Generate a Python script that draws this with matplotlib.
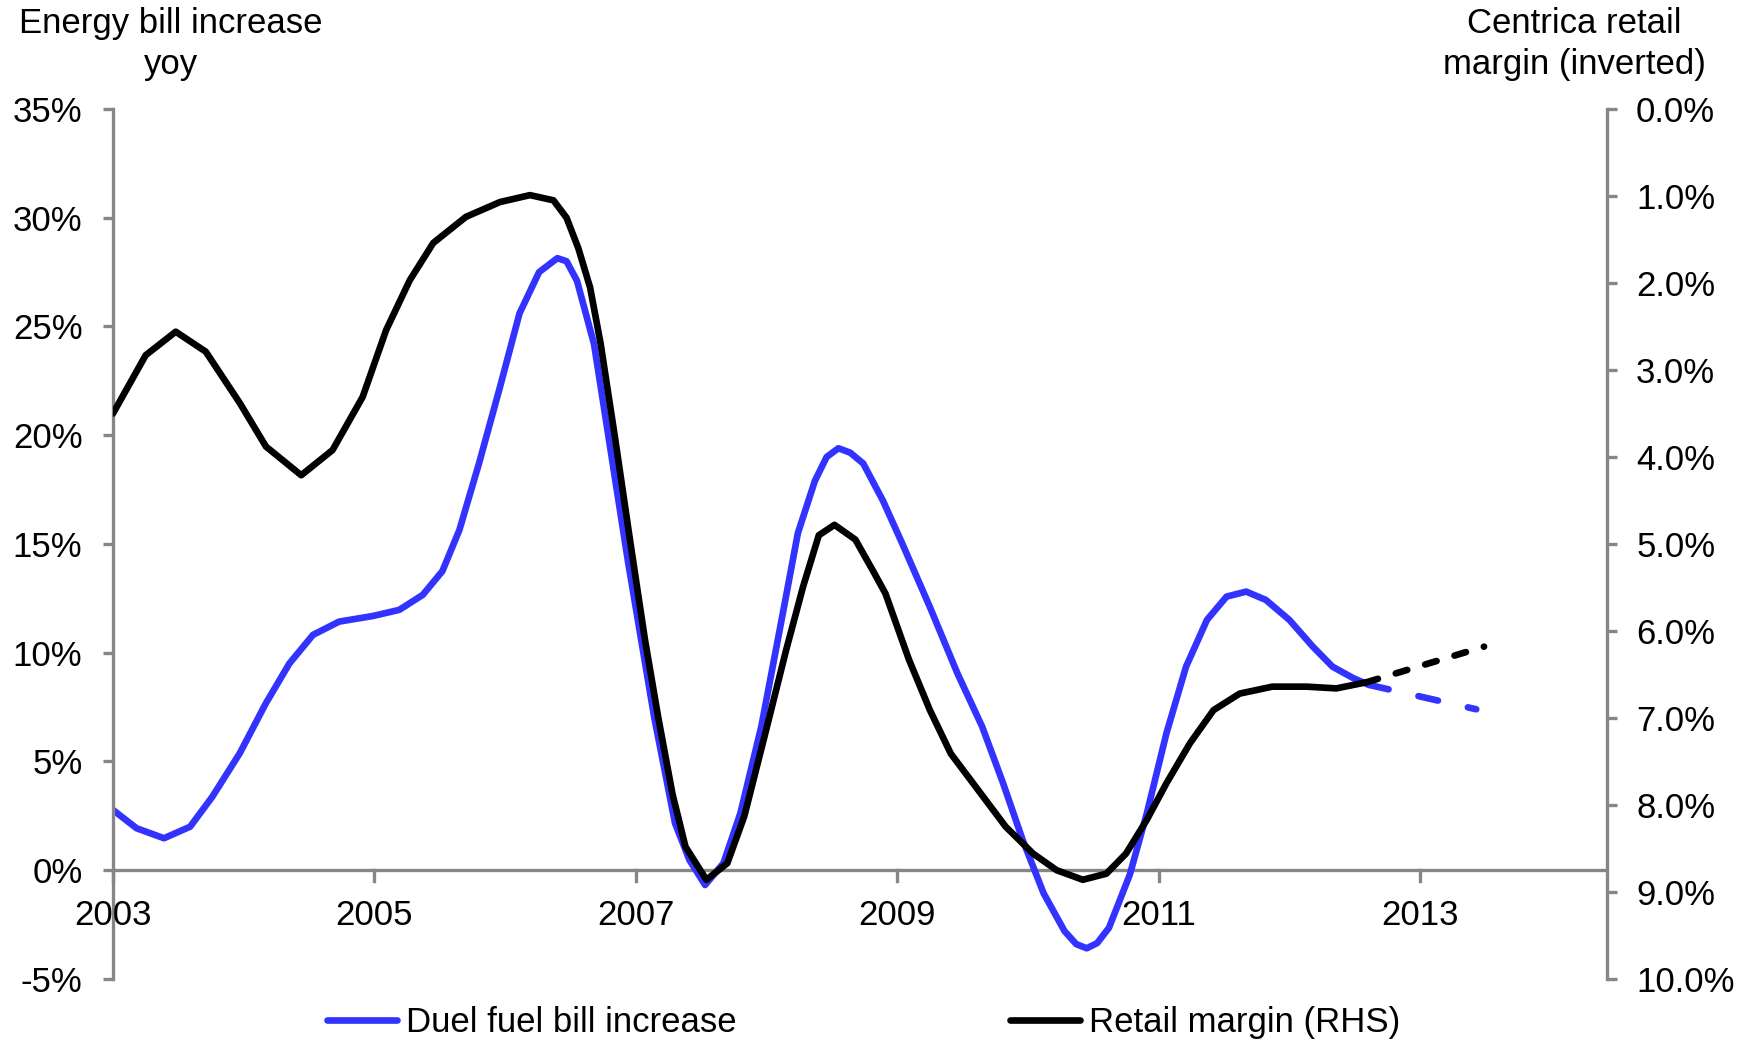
import matplotlib
matplotlib.use("Agg")
import matplotlib.pyplot as plt
from matplotlib.lines import Line2D
from matplotlib.ticker import FuncFormatter

plt.rcParams["font.family"] = ["Liberation Sans", "DejaVu Sans"]

# ── data ─────────────────────────────────────────────────
bill_years = [2003.0, 2003.18, 2003.39, 2003.59, 2003.76, 2003.97, 2004.17, 2004.35,
              2004.53, 2004.73, 2004.99, 2005.19, 2005.37, 2005.52, 2005.65, 2005.80,
              2005.96, 2006.11, 2006.26, 2006.40, 2006.47, 2006.55, 2006.68, 2006.81,
              2006.94, 2007.14, 2007.30, 2007.41, 2007.53, 2007.67, 2007.80, 2007.96,
              2008.12, 2008.24, 2008.37, 2008.46, 2008.55, 2008.64, 2008.74, 2008.89,
              2009.04, 2009.25, 2009.46, 2009.65, 2009.81, 2009.96, 2010.12, 2010.28,
              2010.37, 2010.45, 2010.53, 2010.62, 2010.78, 2010.91, 2011.06, 2011.21,
              2011.37, 2011.52, 2011.67, 2011.82, 2012.0, 2012.18, 2012.33, 2012.49,
              2012.61]
bill_incr = [2.77, 1.93, 1.47, 2.0, 3.38, 5.38, 7.68, 9.51,
             10.82, 11.43, 11.69, 11.97, 12.66, 13.75, 15.64, 18.7,
             22.2, 25.6, 27.5, 28.14, 28.0, 27.1, 24.2, 19.2,
             14.2, 7.06, 2.16, 0.47, -0.68, 0.32, 2.62, 6.6,
             11.66, 15.5, 17.9, 19.0, 19.4, 19.2, 18.7, 17.0,
             15.0, 12.1, 9.06, 6.6, 4.0, 1.39, -1.06, -2.8,
             -3.4, -3.59, -3.35, -2.65, -0.2, 2.62, 6.3, 9.36,
             11.51, 12.58, 12.81, 12.43, 11.51, 10.28, 9.36, 8.83,
             8.52]
bill_fc_years = [2012.61, 2013.43]
bill_fc = [8.52, 7.4]

margin_years = [2003.0, 2003.25, 2003.48, 2003.71, 2003.97, 2004.17, 2004.44, 2004.68,
                2004.91, 2005.09, 2005.27, 2005.45, 2005.70, 2005.96, 2006.19, 2006.37,
                2006.47, 2006.56, 2006.65, 2006.73, 2006.84, 2006.96, 2007.07, 2007.17,
                2007.28, 2007.38, 2007.54, 2007.70, 2007.83, 2007.99, 2008.15, 2008.28,
                2008.40, 2008.52, 2008.68, 2008.83, 2008.91, 2009.09, 2009.25, 2009.41,
                2009.62, 2009.83, 2010.04, 2010.22, 2010.42, 2010.60, 2010.75, 2010.91,
                2011.06, 2011.24, 2011.42, 2011.62, 2011.87, 2012.13, 2012.36, 2012.59]
margin = [3.5, 2.83, 2.56, 2.79, 3.38, 3.88, 4.21, 3.92,
          3.31, 2.54, 1.97, 1.54, 1.24, 1.07, 0.99, 1.05,
          1.25, 1.60, 2.05, 2.69, 3.77, 5.0, 6.10, 6.98,
          7.87, 8.48, 8.86, 8.67, 8.13, 7.18, 6.22, 5.49,
          4.90, 4.78, 4.95, 5.35, 5.57, 6.33, 6.91, 7.41,
          7.83, 8.25, 8.56, 8.75, 8.86, 8.79, 8.56, 8.17,
          7.75, 7.29, 6.91, 6.72, 6.64, 6.64, 6.66, 6.59]
margin_fc_years = [2012.59, 2013.49]
margin_fc = [6.59, 6.18]

year_ticks = [2003, 2005, 2007, 2009, 2011, 2013]

BLUE = "#3333FF"
GREY = "#868686"
FS = 25
LW = 4.8

# ── figure ───────────────────────────────────────────────
fig = plt.figure(figsize=(17.44, 10.4), dpi=100)
ax = fig.add_axes([0.0648, 0.0587, 0.9214 - 0.0648, 0.8952 - 0.0587])
ax2 = ax.twinx()

ax.plot(bill_years, bill_incr, color=BLUE, lw=LW, solid_capstyle="round",
        solid_joinstyle="round")
ax.plot(bill_fc_years, bill_fc, color=BLUE, lw=LW, dashes=(3.0, 4.6),
        dash_capstyle="round")
ax2.plot(margin_years, margin, color="black", lw=LW, solid_capstyle="round",
         solid_joinstyle="round")
ax2.plot(margin_fc_years, margin_fc, color="black", lw=LW, dashes=(1.8, 2.8),
         dash_capstyle="round")

ax.set_xlim(2003, 2014.43)
ax.set_ylim(-5, 35)
ax.set_yticks(range(-5, 36, 5))
ax.yaxis.set_major_formatter(FuncFormatter(lambda v, p: f"{v:.0f}%"))
ax2.set_ylim(10, 0)
ax2.set_yticks(range(0, 11))
ax2.yaxis.set_major_formatter(FuncFormatter(lambda v, p: f"{v:.1f}%"))

for a in (ax, ax2):
    a.spines["top"].set_visible(False)
    a.spines["bottom"].set_visible(False)
    a.patch.set_visible(False)
ax.spines["right"].set_visible(False)
ax2.spines["left"].set_visible(False)
ax.spines["left"].set_color(GREY)
ax.spines["left"].set_linewidth(2.4)
ax2.spines["right"].set_color(GREY)
ax2.spines["right"].set_linewidth(2.4)

# x axis sits on the 0% line
ax.axhline(0, color=GREY, lw=2.4, zorder=1)
ax.set_xticks(year_ticks)
ax.tick_params(axis="x", length=0, labelbottom=False)
for y in year_ticks:
    ax.plot([y, y], [0, -0.5], color=GREY, lw=2.4, zorder=1, clip_on=False)
    ax.annotate(str(y), (y, 0), xytext=(0, -21), textcoords="offset points",
                ha="center", va="top", fontsize=FS)

ax.tick_params(axis="y", colors=GREY, width=2.4, length=7, pad=15,
               labelsize=FS, labelcolor="black")
ax2.tick_params(axis="y", colors=GREY, width=2.4, length=7, pad=14,
                labelsize=FS, labelcolor="black")

# axis titles above the plot
fig.text(0.098, 0.9683, "Energy bill increase", ha="center", va="baseline", fontsize=FS)
fig.text(0.098, 0.9288, "yoy", ha="center", va="baseline", fontsize=FS)
fig.text(0.9025, 0.9683, "Centrica retail", ha="center", va="baseline", fontsize=FS)
fig.text(0.9025, 0.9288, "margin (inverted)", ha="center", va="baseline", fontsize=FS)

handles = [Line2D([], [], color=BLUE, lw=LW, solid_capstyle="round"),
           Line2D([], [], color="black", lw=LW, solid_capstyle="round")]
fig.legend(handles, ["Duel fuel bill increase", "Retail margin (RHS)"],
           loc="center", bbox_to_anchor=(0.4952, 0.017), ncol=2, frameon=False,
           fontsize=FS, handlelength=2.0, handletextpad=0.25, columnspacing=7.9,
           borderaxespad=0)

fig.savefig("out.png", dpi=100)
